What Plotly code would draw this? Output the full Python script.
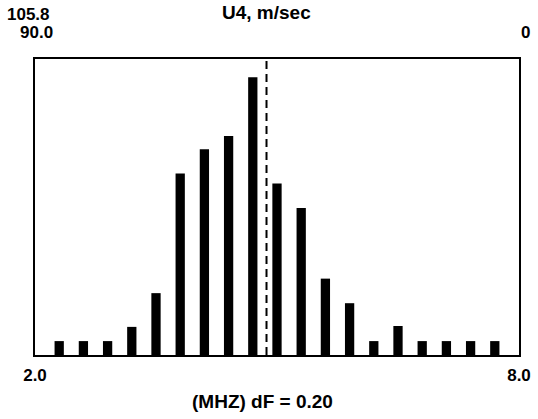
import plotly.graph_objects as go

# Data
freq_mhz = [2.3, 2.6, 2.9, 3.2, 3.5, 3.8, 4.1, 4.4, 4.7, 5.0, 5.3, 5.6, 5.9, 6.2, 6.5, 6.8, 7.1, 7.4, 7.7]
counts = [4.7, 4.7, 4.7, 9.5, 20.9, 61.3, 69.5, 74.0, 93.8, 57.9, 49.7, 25.8, 17.5, 4.7, 9.8, 4.7, 4.7, 4.7, 4.7]
mean_freq = 4.87
x_ticks = [2.0, 8.0]
x_tick_labels = ["2.0", "8.0"]
y_max = 100

FONT = "Liberation Sans, Arial, Helvetica, sans-serif"
FS_NUM = 17
FS_TXT = 19

fig = go.Figure()
fig.add_trace(go.Bar(x=freq_mhz, y=counts, width=0.115,
                     marker=dict(color="black", line=dict(width=0)),
                     showlegend=False, hoverinfo="skip"))

fig.add_shape(type="line", x0=mean_freq, x1=mean_freq, y0=0, y1=1,
              xref="x", yref="paper",
              line=dict(color="black", width=2, dash="8px,5px"))

fig.update_xaxes(range=[2.0, 8.0], showgrid=False, zeroline=False,
                 showline=True, linecolor="black", linewidth=2, mirror=True,
                 tickvals=x_ticks, ticktext=["<b>%s</b>" % t for t in x_tick_labels],
                 ticks="", automargin=False, ticklabelstandoff=4,
                 tickfont=dict(family=FONT, size=FS_NUM, color="black"))
fig.update_yaxes(range=[0, y_max], showgrid=False, zeroline=False,
                 showline=True, linecolor="black", linewidth=2, mirror=True,
                 showticklabels=False, ticks="", automargin=False)

annotations = [
    dict(text="<b>105.8</b>", x=5, y=14, xanchor="left", size=FS_NUM),
    dict(text="<b>U4, m/sec</b>", x=266, y=13, xanchor="center", size=FS_TXT),
    dict(text="<b>90.0</b>", x=55, y=33, xanchor="right", size=FS_NUM),
    dict(text="<b>0</b>", x=532, y=33, xanchor="right", size=FS_NUM),
    dict(text="<b>(MHZ) dF = 0.20</b>", x=262, y=401, xanchor="center", size=FS_TXT),
]
W, H = 538, 419
L, R, T, B = 35, 19, 59, 64
for a in annotations:
    fig.add_annotation(text=a["text"], xref="paper", yref="paper",
                       x=(a["x"] - L) / (W - L - R), y=1 - (a["y"] - T) / (H - T - B),
                       xanchor=a["xanchor"], yanchor="middle", showarrow=False,
                       font=dict(family=FONT, size=a["size"], color="black"))

fig.update_layout(width=W, height=H, margin=dict(l=L, r=R, t=T, b=B, autoexpand=False),
                  plot_bgcolor="white", paper_bgcolor="white",
                  font=dict(family=FONT, size=FS_NUM, color="black"))

fig.write_html("out.html", config={"displayModeBar": False},
               post_script="document.body.style.margin='0';document.body.style.overflow='hidden';")
